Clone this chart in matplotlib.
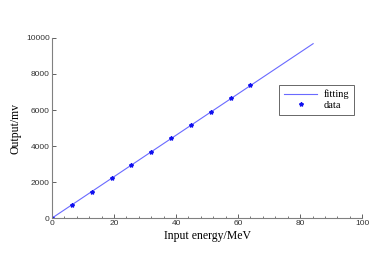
import matplotlib
matplotlib.use("Agg")
import matplotlib.pyplot as plt
from matplotlib.ticker import MultipleLocator

# measured points (input energy in MeV, output in mV)
energy = [0, 6.4, 12.8, 19.2, 25.6, 32.0, 38.4, 44.8, 51.2, 57.6, 64.0]
output = [0, 740, 1470, 2210, 2950, 3680, 4420, 5160, 5900, 6640, 7370]

# fitted line endpoints
fit_energy = [0, 84.2]
fit_output = [0, 9680]

fig = plt.figure(figsize=(3.82, 2.67), dpi=100)
ax = fig.add_axes([0.136, 0.183, 0.812, 0.675])

ax.plot(fit_energy, fit_output, color='#6a6aff', lw=0.8, label='fitting')
ax.plot(energy, output, ls='none', marker='*', ms=3, color='#1010ee', label='data')

ax.set_xlim(0, 100)
ax.set_ylim(0, 10000)
ax.xaxis.set_major_locator(MultipleLocator(20))
ax.xaxis.set_minor_locator(MultipleLocator(4))
ax.yaxis.set_major_locator(MultipleLocator(2000))

for s in ['top', 'right']:
    ax.spines[s].set_visible(False)
for s in ['left', 'bottom']:
    ax.spines[s].set_color('#808080')
    ax.spines[s].set_linewidth(0.8)

ax.tick_params(axis='both', which='both', direction='in', color='#606060',
               labelsize=6, labelcolor='#333333', pad=1.5)
ax.tick_params(which='major', length=3, width=0.7)
ax.tick_params(which='minor', length=1.8, width=0.6)
for lab in ax.get_xticklabels() + ax.get_yticklabels():
    lab.set_family('Liberation Sans')

ax.set_xlabel('Input energy/MeV', family='Liberation Serif', fontsize=8.5, labelpad=2)
ax.set_ylabel('Output/mv', family='Liberation Serif', fontsize=8.5, labelpad=3)

leg = ax.legend(loc='upper left', bbox_to_anchor=(0.733, 0.74),
                prop={'family': 'Liberation Serif', 'size': 7.5},
                frameon=True, fancybox=False, handlelength=3.2,
                borderpad=0.45, labelspacing=0.15, handletextpad=0.6,
                borderaxespad=0)
leg.get_frame().set_edgecolor('#404040')
leg.get_frame().set_linewidth(0.7)

fig.savefig('out.png', dpi=100)
